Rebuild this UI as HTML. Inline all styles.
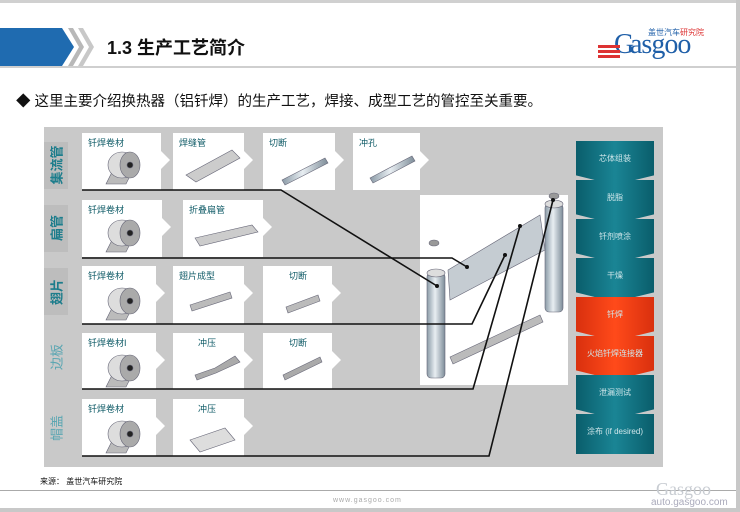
<!DOCTYPE html>
<html><head><meta charset="utf-8"><style>
body{margin:0;width:740px;height:512px;overflow:hidden;background:#fff;font-family:"Liberation Sans","Noto Sans CJK SC",sans-serif;position:relative}
.a{position:absolute}
.card{position:absolute;background:#fff}
.card span{position:absolute;left:6px;top:3px;font-size:9px;color:#0e5a66}
.tab{position:absolute;width:0;height:0;border-top:9px solid transparent;border-bottom:9px solid transparent;border-left:9px solid #fff}
.lab{position:absolute;left:44px;width:24px;background:#bdbdbd}
.lt{position:absolute;left:56px;transform:translate(-50%,-50%) rotate(-90deg);font-size:13px;color:#1d7d8c;font-weight:bold;white-space:nowrap}
.ch{position:absolute;left:576px;width:78px;height:44px;clip-path:polygon(0 0,100% 0,100% 78%,50% 100%,0 78%);background:linear-gradient(90deg,#0a5d6b,#1a8595,#0a5d6b)}
.ch.r{background:linear-gradient(90deg,#d9300e,#ff4a1a,#d9300e)}
.ch span{position:absolute;left:0;right:0;top:12px;text-align:center;font-size:8px;color:#cfe6ea}
</style></head><body>
<div class="a" style="left:0;top:0;width:740px;height:3px;background:#d0d0d0"></div>
<div class="a" style="left:736px;top:0;width:4px;height:512px;background:#c8c8c8"></div>
<div class="a" style="left:0;top:28px;width:74px;height:38px;background:#1f6bb0;clip-path:polygon(0 0,62px 0,74px 19px,62px 38px,0 38px)"></div>
<div class="a" style="left:68px;top:28px;width:16px;height:38px;background:#b8b8b8;clip-path:polygon(0 0,5px 0,16px 19px,5px 38px,0 38px,11px 19px)"></div>
<div class="a" style="left:78px;top:28px;width:16px;height:38px;background:#c8c8c8;clip-path:polygon(0 0,5px 0,16px 19px,5px 38px,0 38px,11px 19px)"></div>
<div class="a" style="left:107px;top:34px;font-size:18px;font-weight:bold;color:#111">1.3 生产工艺简介</div>
<div class="a" style="left:0;top:66px;width:736px;height:2px;background:#cfcfcf"></div>
<div class="a" style="left:630px;top:30px;font-size:28px;line-height:30px;font-family:'Liberation Serif',serif;color:#1f5fa8;letter-spacing:-1px">asgoo</div>
<div class="a" style="left:614px;top:30px;font-size:28px;line-height:30px;font-family:'Liberation Serif',serif;color:#1f5fa8">G</div>
<div class="a" style="left:648px;top:27px;font-size:8px;color:#1f5fa8">盖世汽车<span style="color:#d33">研究院</span></div>
<div class="a" style="left:598px;top:45px;width:22px;height:3px;background:#d33;box-shadow:0 5px 0 #d33,0 10px 0 #d33"></div>
<div class="a" style="left:16px;top:90px;font-size:14.5px;color:#111">◆ 这里主要介绍换热器（铝钎焊）的生产工艺，焊接、成型工艺的管控至关重要。</div>

<div class="a" style="left:44px;top:127px;width:619px;height:340px;background:#c9c9c9"></div>
<div class="lab" style="top:142px;height:47px"></div>
<div class="lab" style="top:205px;height:47px"></div>
<div class="lab" style="top:268px;height:47px"></div>
<div class="lt" style="top:165px">集流管</div>
<div class="lt" style="top:228px">扁管</div>
<div class="lt" style="top:292px">翅片</div>
<div class="lt" style="top:357px;color:#5aa6b2;font-weight:normal">边板</div>
<div class="lt" style="top:428px;color:#5aa6b2;font-weight:normal">帽盖</div>

<div class="card" style="left:82px;top:133px;width:79px;height:57px"><span>钎焊卷材</span></div><div class="tab" style="left:161px;top:151px"></div>
<div class="card" style="left:173px;top:133px;width:71px;height:57px"><span>焊缝管</span></div><div class="tab" style="left:244px;top:151px"></div>
<div class="card" style="left:263px;top:133px;width:72px;height:57px"><span>切断</span></div><div class="tab" style="left:335px;top:151px"></div>
<div class="card" style="left:353px;top:133px;width:67px;height:57px"><span>冲孔</span></div><div class="tab" style="left:420px;top:151px"></div>
<div class="card" style="left:82px;top:200px;width:80px;height:57px"><span>钎焊卷材</span></div><div class="tab" style="left:162px;top:218px"></div>
<div class="card" style="left:183px;top:200px;width:80px;height:57px"><span>折叠扁管</span></div><div class="tab" style="left:263px;top:218px"></div>
<div class="card" style="left:82px;top:266px;width:74px;height:58px"><span>钎焊卷材</span></div><div class="tab" style="left:156px;top:284px"></div>
<div class="card" style="left:173px;top:266px;width:71px;height:58px"><span>翅片成型</span></div><div class="tab" style="left:244px;top:284px"></div>
<div class="card" style="left:263px;top:266px;width:69px;height:58px"><span style="left:26px">切断</span></div><div class="tab" style="left:332px;top:284px"></div>
<div class="card" style="left:82px;top:333px;width:74px;height:56px"><span>钎焊卷材I</span></div><div class="tab" style="left:156px;top:351px"></div>
<div class="card" style="left:173px;top:333px;width:71px;height:56px"><span style="left:25px">冲压</span></div><div class="tab" style="left:244px;top:351px"></div>
<div class="card" style="left:263px;top:333px;width:69px;height:56px"><span style="left:26px">切断</span></div><div class="tab" style="left:332px;top:351px"></div>
<div class="card" style="left:82px;top:399px;width:74px;height:57px"><span>钎焊卷材</span></div><div class="tab" style="left:156px;top:417px"></div>
<div class="card" style="left:173px;top:399px;width:71px;height:57px"><span style="left:25px">冲压</span></div><div class="tab" style="left:244px;top:417px"></div>

<div class="a" style="left:420px;top:195px;width:148px;height:190px;background:#fff"></div>

<svg class="a" style="left:0;top:0" width="740" height="512">
<defs><linearGradient id="cy" x1="0" x2="1"><stop offset="0" stop-color="#8a9aa6"/><stop offset=".45" stop-color="#e8eef2"/><stop offset="1" stop-color="#7d8c98"/></linearGradient></defs>
<g fill="url(#cy)" stroke="#667" stroke-width=".6">
<g id="roll"><path d="M112 172 L132 172 L126 184 L106 184 Z" fill="#bbb"/><ellipse cx="122" cy="165" rx="14" ry="13" fill="#ddd"/><ellipse cx="130" cy="165" rx="10" ry="13" fill="#aaa"/><circle cx="130" cy="165" r="3" fill="#222"/></g>
<use href="#roll" y="68"/><use href="#roll" y="136"/><use href="#roll" y="203"/><use href="#roll" y="269"/>
<path d="M186 175 L232 150 L240 158 L196 182 Z" fill="#ccc"/>
<path d="M282 180 L325 158 L328 163 L285 185 Z"/>
<path d="M370 178 L412 156 L415 161 L373 183 Z"/>
<path d="M195 238 L252 225 L258 232 L200 246 Z" fill="#ccc"/>
<path d="M190 305 L230 292 L232 298 L192 311 Z" fill="#bbb"/>
<path d="M286 307 L318 295 L320 301 L288 313 Z" fill="#bbb"/>
<path d="M195 375 L215 368 L235 356 L240 362 L216 373 L197 380Z" fill="#aaa"/>
<path d="M283 375 L320 357 L322 362 L285 380Z" fill="#aaa"/>
<path d="M190 440 L225 428 L235 440 L200 452Z" fill="#ddd"/>
<rect x="427" y="273" width="18" height="105" rx="4"/>
<ellipse cx="436" cy="273" rx="9" ry="4" fill="#ddd"/>
<rect x="545" y="204" width="18" height="108" rx="4"/>
<ellipse cx="554" cy="204" rx="9" ry="4" fill="#ddd"/>
<path d="M448 270 L540 215 L545 250 L450 300 Z" fill="#c5ccd2"/>
<path d="M450 357 L540 315 L543 322 L453 364 Z" fill="#bbb"/>
<ellipse cx="434" cy="243" rx="5" ry="3" fill="#999"/>
<ellipse cx="554" cy="196" rx="5" ry="3" fill="#999"/>
</g>
<g stroke="#111" stroke-width="1.6" fill="none">
<polyline points="82,190 281,190 437,286"/>
<polyline points="82,258 452,258 467,267"/>
<polyline points="82,324 472,324 505,255"/>
<polyline points="82,389 473,389 520,226"/>
<polyline points="82,456 489,456 553,200"/>
</g>
<g fill="#111"><circle cx="437" cy="286" r="2"/><circle cx="467" cy="267" r="2"/><circle cx="505" cy="255" r="2"/><circle cx="520" cy="226" r="2"/><circle cx="553" cy="200" r="2"/></g>
</svg>

<div class="ch" style="top:141px"><span>芯体组装</span></div>
<div class="ch" style="top:180px"><span>脱脂</span></div>
<div class="ch" style="top:219px"><span>钎剂喷涂</span></div>
<div class="ch" style="top:258px"><span>干燥</span></div>
<div class="ch r" style="top:297px"><span>钎焊</span></div>
<div class="ch r" style="top:336px"><span>火焰钎焊连接器</span></div>
<div class="ch" style="top:375px"><span>泄漏测试</span></div>
<div class="ch" style="top:414px;height:40px;clip-path:none"><span>涂布 (if desired)</span></div>

<div class="a" style="left:40px;top:476px;font-size:8px;color:#111">来源： 盖世汽车研究院</div>
<div class="a" style="left:0;top:490px;width:736px;height:1px;background:#aaa"></div>
<div class="a" style="left:333px;top:497px;font-size:7px;color:#aaa;letter-spacing:1px">www.gasgoo.com</div>
<div class="a" style="left:0;top:508px;width:740px;height:4px;background:#c8c8c8"></div>
<div class="a" style="left:656px;top:479px;font-size:18px;font-family:'Liberation Serif',serif;color:#c8ccd2">Gasgoo</div>
<div class="a" style="left:651px;top:497px;font-size:10px;color:#aab">auto.gasgoo.com</div>
</body></html>
